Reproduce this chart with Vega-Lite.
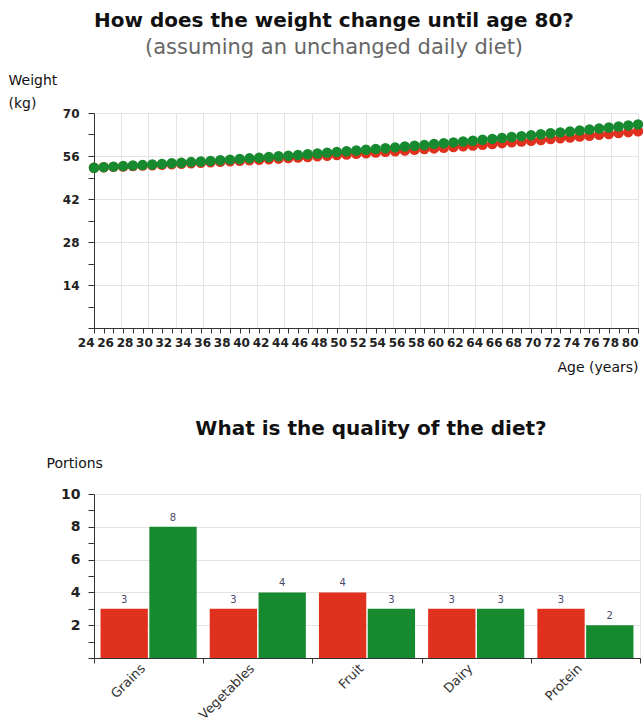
{
  "$schema": "https://vega.github.io/schema/vega-lite/v6.json",
  "padding": {"left": 8, "top": 11, "right": 2, "bottom": 0},
  "background": "white",
  "spacing": 44,
  "config": {
    "font": "DejaVu Sans",
    "axis": {"labelFont": "DejaVu Sans", "titleFont": "DejaVu Sans"},
    "title": {"font": "DejaVu Sans"},
    "text": {"font": "DejaVu Sans"}
  },
  "vconcat": [
    {
      "width": 544,
      "height": 215,
      "view": {"stroke": null},
      "title": {
        "text": "How does the weight change until age 80?",
        "subtitle": "(assuming an unchanged daily diet)",
        "fontSize": 20,
        "fontWeight": "bold",
        "color": "#111111",
        "subtitleFontSize": 21,
        "subtitleColor": "#666666",
        "subtitlePadding": 6,
        "anchor": "middle",
        "dx": -32,
        "offset": 15
      },
      "data": {"values": [
        {"age":24,"diet":"current","kg":52.20},{"age":25,"diet":"current","kg":52.33},{"age":26,"diet":"current","kg":52.46},{"age":27,"diet":"current","kg":52.59},{"age":28,"diet":"current","kg":52.73},{"age":29,"diet":"current","kg":52.87},{"age":30,"diet":"current","kg":53.01},{"age":31,"diet":"current","kg":53.15},{"age":32,"diet":"current","kg":53.30},{"age":33,"diet":"current","kg":53.45},{"age":34,"diet":"current","kg":53.61},{"age":35,"diet":"current","kg":53.77},{"age":36,"diet":"current","kg":53.93},{"age":37,"diet":"current","kg":54.09},{"age":38,"diet":"current","kg":54.26},{"age":39,"diet":"current","kg":54.43},{"age":40,"diet":"current","kg":54.60},{"age":41,"diet":"current","kg":54.78},{"age":42,"diet":"current","kg":54.96},{"age":43,"diet":"current","kg":55.14},{"age":44,"diet":"current","kg":55.32},{"age":45,"diet":"current","kg":55.51},{"age":46,"diet":"current","kg":55.70},{"age":47,"diet":"current","kg":55.90},{"age":48,"diet":"current","kg":56.10},{"age":49,"diet":"current","kg":56.30},{"age":50,"diet":"current","kg":56.50},{"age":51,"diet":"current","kg":56.71},{"age":52,"diet":"current","kg":56.92},{"age":53,"diet":"current","kg":57.13},{"age":54,"diet":"current","kg":57.35},{"age":55,"diet":"current","kg":57.57},{"age":56,"diet":"current","kg":57.79},{"age":57,"diet":"current","kg":58.02},{"age":58,"diet":"current","kg":58.24},{"age":59,"diet":"current","kg":58.48},{"age":60,"diet":"current","kg":58.71},{"age":61,"diet":"current","kg":58.95},{"age":62,"diet":"current","kg":59.19},{"age":63,"diet":"current","kg":59.43},{"age":64,"diet":"current","kg":59.68},{"age":65,"diet":"current","kg":59.93},{"age":66,"diet":"current","kg":60.18},{"age":67,"diet":"current","kg":60.44},{"age":68,"diet":"current","kg":60.70},{"age":69,"diet":"current","kg":60.96},{"age":70,"diet":"current","kg":61.23},{"age":71,"diet":"current","kg":61.50},{"age":72,"diet":"current","kg":61.77},{"age":73,"diet":"current","kg":62.04},{"age":74,"diet":"current","kg":62.32},{"age":75,"diet":"current","kg":62.60},{"age":76,"diet":"current","kg":62.88},{"age":77,"diet":"current","kg":63.17},{"age":78,"diet":"current","kg":63.46},{"age":79,"diet":"current","kg":63.76},{"age":80,"diet":"current","kg":64.05},
        {"age":24,"diet":"recommended","kg":52.20},{"age":25,"diet":"recommended","kg":52.37},{"age":26,"diet":"recommended","kg":52.54},{"age":27,"diet":"recommended","kg":52.71},{"age":28,"diet":"recommended","kg":52.89},{"age":29,"diet":"recommended","kg":53.07},{"age":30,"diet":"recommended","kg":53.25},{"age":31,"diet":"recommended","kg":53.43},{"age":32,"diet":"recommended","kg":53.62},{"age":33,"diet":"recommended","kg":53.81},{"age":34,"diet":"recommended","kg":54.01},{"age":35,"diet":"recommended","kg":54.21},{"age":36,"diet":"recommended","kg":54.41},{"age":37,"diet":"recommended","kg":54.61},{"age":38,"diet":"recommended","kg":54.82},{"age":39,"diet":"recommended","kg":55.03},{"age":40,"diet":"recommended","kg":55.24},{"age":41,"diet":"recommended","kg":55.46},{"age":42,"diet":"recommended","kg":55.68},{"age":43,"diet":"recommended","kg":55.90},{"age":44,"diet":"recommended","kg":56.12},{"age":45,"diet":"recommended","kg":56.35},{"age":46,"diet":"recommended","kg":56.58},{"age":47,"diet":"recommended","kg":56.82},{"age":48,"diet":"recommended","kg":57.06},{"age":49,"diet":"recommended","kg":57.30},{"age":50,"diet":"recommended","kg":57.54},{"age":51,"diet":"recommended","kg":57.79},{"age":52,"diet":"recommended","kg":58.04},{"age":53,"diet":"recommended","kg":58.29},{"age":54,"diet":"recommended","kg":58.55},{"age":55,"diet":"recommended","kg":58.81},{"age":56,"diet":"recommended","kg":59.07},{"age":57,"diet":"recommended","kg":59.34},{"age":58,"diet":"recommended","kg":59.60},{"age":59,"diet":"recommended","kg":59.88},{"age":60,"diet":"recommended","kg":60.15},{"age":61,"diet":"recommended","kg":60.43},{"age":62,"diet":"recommended","kg":60.71},{"age":63,"diet":"recommended","kg":60.99},{"age":64,"diet":"recommended","kg":61.28},{"age":65,"diet":"recommended","kg":61.57},{"age":66,"diet":"recommended","kg":61.86},{"age":67,"diet":"recommended","kg":62.16},{"age":68,"diet":"recommended","kg":62.46},{"age":69,"diet":"recommended","kg":62.76},{"age":70,"diet":"recommended","kg":63.07},{"age":71,"diet":"recommended","kg":63.38},{"age":72,"diet":"recommended","kg":63.69},{"age":73,"diet":"recommended","kg":64.00},{"age":74,"diet":"recommended","kg":64.32},{"age":75,"diet":"recommended","kg":64.64},{"age":76,"diet":"recommended","kg":64.96},{"age":77,"diet":"recommended","kg":65.29},{"age":78,"diet":"recommended","kg":65.62},{"age":79,"diet":"recommended","kg":65.96},{"age":80,"diet":"recommended","kg":66.29}
      ]},
      "layer": [
        {
          "mark": {"type": "point", "opacity": 0},
          "encoding": {
            "x": {"field": "age", "type": "quantitative", "scale": {"domain": [24, 80], "nice": false, "zero": false},
              "axis": {"orient": "bottom", "values": [24,26.8,29.6,32.4,35.2,38,40.8,43.6,46.4,49.2,52,54.8,57.6,60.4,63.2,66,68.8,71.6,74.4,77.2,80], "grid": true, "gridColor": "#e4e4e4", "labels": false, "ticks": false, "domain": false, "title": null}},
            "y": {"field": "kg", "type": "quantitative", "scale": {"domain": [0, 70], "nice": false, "zero": true},
              "axis": {"orient": "left", "values": [14,28,42,56,70], "grid": true, "gridColor": "#e4e4e4", "labels": false, "ticks": false, "domain": false, "title": null}}
          }
        },
        {
          "mark": {"type": "circle", "size": 110, "opacity": 1},
          "encoding": {
            "x": {"field": "age", "type": "quantitative",
              "axis": {"orient": "bottom", "values": [24,25,26,27,28,29,30,31,32,33,34,35,36,37,38,39,40,41,42,43,44,45,46,47,48,49,50,51,52,53,54,55,56,57,58,59,60,61,62,63,64,65,66,67,68,69,70,71,72,73,74,75,76,77,78,79,80],
                "labelExpr": "datum.value % 2 == 0 ? datum.label : ''", "labelAlign": "right", "labelFlush": false, "labelBound": false, "labelOverlap": false,
                "labelFontSize": 12, "labelFontWeight": "bold", "labelColor": "#222222", "labelPadding": 4, "labelDx": 0,
                "tickSize": 5, "tickColor": "#333333", "domainColor": "#333333", "grid": false,
                "title": "Age (years)", "titleX": 544, "titleY": 39, "titleAlign": "right", "titleBaseline": "middle", "titleFontSize": 14, "titleFontWeight": "normal", "titleColor": "#111111"}},
            "y": {"field": "kg", "type": "quantitative",
              "axis": {"orient": "left", "values": [0,7,14,21,28,35,42,49,56,63,70],
                "labelExpr": "datum.value % 14 == 0 && datum.value > 0 ? datum.label : ''",
                "labelFontSize": 12, "labelFontWeight": "bold", "labelColor": "#222222", "labelPadding": 9,
                "tickSize": 6, "tickColor": "#333333", "domainColor": "#333333", "grid": false,
                "title": ["Weight", "(kg)"], "titleAngle": 0, "titleAlign": "left", "titleBaseline": "top", "titleX": -86, "titleY": -40, "titleLineHeight": 23, "titleFontSize": 14, "titleFontWeight": "normal", "titleColor": "#111111"}},
            "color": {"field": "diet", "type": "nominal", "scale": {"domain": ["current", "recommended"], "range": ["#e0301e", "#178a30"]}, "legend": null}
          }
        }
      ],
      "resolve": {"axis": {"x": "independent", "y": "independent"}}
    },
    {
      "width": 546,
      "height": 164,
      "view": {"stroke": "#e4e4e4"},
      "title": {
        "text": "What is the quality of the diet?",
        "fontSize": 20,
        "fontWeight": "bold",
        "color": "#111111",
        "anchor": "middle",
        "dx": 4,
        "offset": 17
      },
      "data": {"values": [
        {"food": "Grains", "diet": "current", "portions": 3},
        {"food": "Vegetables", "diet": "current", "portions": 3},
        {"food": "Fruit", "diet": "current", "portions": 4},
        {"food": "Dairy", "diet": "current", "portions": 3},
        {"food": "Protein", "diet": "current", "portions": 3},
        {"food": "Grains", "diet": "recommended", "portions": 8},
        {"food": "Vegetables", "diet": "recommended", "portions": 4},
        {"food": "Fruit", "diet": "recommended", "portions": 3},
        {"food": "Dairy", "diet": "recommended", "portions": 3},
        {"food": "Protein", "diet": "recommended", "portions": 2}
      ]},
      "encoding": {
        "x": {"field": "food", "type": "nominal", "sort": ["Grains", "Vegetables", "Fruit", "Dairy", "Protein"],
          "scale": {"paddingInner": 0, "paddingOuter": 0},
          "axis": {"orient": "bottom", "title": null, "tickBand": "extent", "labelAngle": -45, "labelAlign": "right", "labelBaseline": "middle", "labelPadding": 3, "labelOffset": -6,
            "labelFontSize": 13, "labelColor": "#333333", "tickSize": 5, "tickColor": "#333333", "domainColor": "#333333", "grid": false}},
        "xOffset": {"field": "diet", "type": "nominal", "sort": ["current", "recommended"], "scale": {"paddingInner": 0.03, "paddingOuter": 0.134}},
        "y": {"field": "portions", "type": "quantitative", "scale": {"domain": [0, 10], "nice": false}}
      },
      "layer": [
        {
          "mark": {"type": "bar", "opacity": 0},
          "encoding": {
            "y": {"field": "portions", "type": "quantitative",
              "axis": {"orient": "left", "values": [2,4,6,8,10], "grid": true, "gridColor": "#e4e4e4", "labels": false, "ticks": false, "domain": false, "title": null}}
          }
        },
        {
          "mark": {"type": "bar"},
          "encoding": {
            "y": {"field": "portions", "type": "quantitative",
              "axis": {"orient": "left", "values": [0,1,2,3,4,5,6,7,8,9,10],
                "labelExpr": "datum.value % 2 == 0 && datum.value > 0 ? datum.label : ''",
                "labelFontSize": 14, "labelFontWeight": "bold", "labelColor": "#222222", "labelPadding": 8,
                "tickSize": 6, "tickColor": "#333333", "domainColor": "#333333", "grid": false,
                "title": "Portions", "titleAngle": 0, "titleAlign": "left", "titleBaseline": "middle", "titleX": -48, "titleY": -31, "titleFontSize": 14, "titleFontWeight": "normal", "titleColor": "#111111"}},
            "color": {"field": "diet", "type": "nominal", "scale": {"domain": ["current", "recommended"], "range": ["#e0301e", "#178a30"]}, "legend": null}
          }
        },
        {
          "mark": {"type": "text", "baseline": "bottom", "dy": -4, "fontSize": 10, "color": "#4a4a6a"},
          "encoding": {
            "y": {"field": "portions", "type": "quantitative", "axis": null},
            "text": {"field": "portions", "type": "quantitative"}
          }
        }
      ],
      "resolve": {"axis": {"y": "independent"}}
    }
  ]
}
